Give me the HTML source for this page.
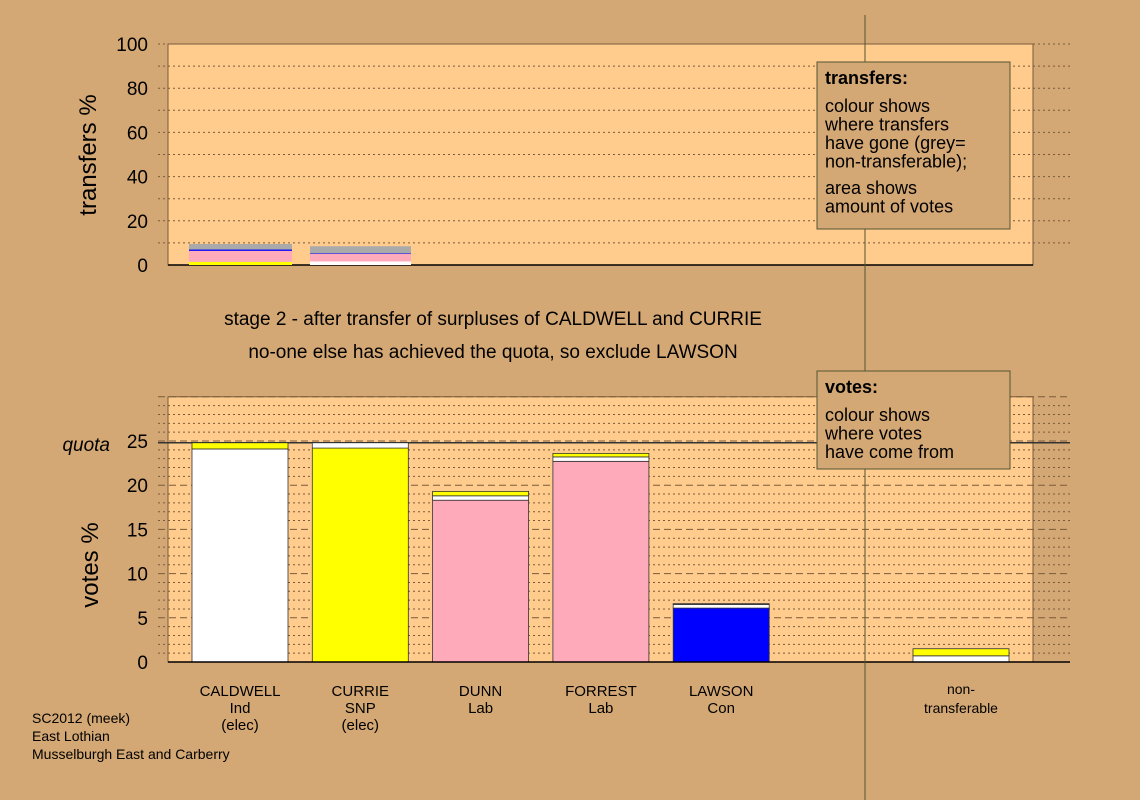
<!DOCTYPE html>
<html><head><meta charset="utf-8"><style>
body{margin:0;background:#d4a874;}
svg{display:block;font-family:"Liberation Sans",sans-serif;}
</style></head><body>
<svg id="c" width="1140" height="800"></svg>
<script>
const candidates=["CALDWELL","CURRIE","DUNN","FORREST","LAWSON"];
const candLines=[["CALDWELL","Ind","(elec)"],["CURRIE","SNP","(elec)"],["DUNN","Lab"],["FORREST","Lab"],["LAWSON","Con"]];
const voteColors=["#ffffff","#ffff00","#ffaabb","#0000ff","#aaaaaa"];
// bottom stacks: [color index, value]
const voteStacks=[[[0,24.1],[1,0.7]],[[1,24.2],[0,0.6]],[[2,18.3],[0,0.5],[1,0.5]],[[2,22.7],[0,0.5],[1,0.4]],[[3,6.1],[0,0.4],[4,0.1]]];
const nonTransStack=[[0,0.7],[1,0.8]];
const transferStacks=[[[1,1.4],[2,4.0],[5,1.0],[3,0.6],[4,2.5]],[[0,1.6],[2,3.4],[3,0.3],[4,3.2]]];
const quota=24.8;
const topTicks=[0,20,40,60,80,100];
const botTicks=[0,5,10,15,20,25];
const NS="http://www.w3.org/2000/svg",svg=document.getElementById('c');
const pal=["#ffffff","#ffff00","#ffaabb","#0000ff","#aaaaaa","#ffaabb"];
function el(t,a,name,p){const e=document.createElementNS(NS,t);for(const k in a)e.setAttribute(k,a[k]);


(p||svg).appendChild(e);return e;}
function txt(x,y,s,size,anchor,name,extra){const e=el('text',Object.assign({x:x,y:y,'font-size':size,'text-anchor':anchor||'middle',fill:'#000'},extra||{}),name);e.textContent=s;return e;}
const X0=168,X1=1033;
const yT=v=>265-v*2.21, yB=v=>662-v*8.84;
const barX=i=>192+i*120.3, BW=96;
// top plot
el('rect',{x:X0,y:44,width:X1-X0,height:221,fill:'#ffcc8e',stroke:'#7a5a3a','stroke-width':1},'transfers-plot-area');
for(let v=10;v<=100;v+=10)el('line',{x1:158,x2:1070,y1:yT(v),y2:yT(v),stroke:'#7a5a3a','stroke-dasharray':'2,3','stroke-width':1},'transfers-gridline');
topTicks.forEach(v=>txt(148,yT(v)+7,String(v),19,'end','transfers-tick-label'));
txt(0,0,'transfers %',24,'middle','transfers-y-axis-title',{transform:'translate(96,155) rotate(-90)'});
el('line',{x1:X0,x2:X1,y1:265,y2:265,stroke:'#000','stroke-width':1.5},'transfers-baseline');
transferStacks.forEach((st,i)=>{let c=0;const bx=i==0?189:310,bw=i==0?103:101;st.forEach(s=>{el('rect',{x:bx,y:yT(c+s[1]),width:bw,height:s[1]*2.21,fill:pal[s[0]]},'transfer-segment-'+candidates[i].toLowerCase());c+=s[1];});});
// middle text
txt(493,325,'stage 2 - after transfer of surpluses of CALDWELL and CURRIE',19,'middle','stage-title');
txt(493,358,'no-one else has achieved the quota, so exclude LAWSON',19,'middle','stage-subtitle');
// bottom plot
el('rect',{x:X0,y:yB(30),width:X1-X0,height:30*8.84,fill:'#ffcc8e',stroke:'#7a5a3a','stroke-width':1},'votes-plot-area');
for(let v=1;v<=30;v++)el('line',{x1:158,x2:1070,y1:yB(v),y2:yB(v),stroke:'#7a5a3a','stroke-dasharray':v%5==0?'7,4':'2,3','stroke-width':1},'votes-gridline');
botTicks.forEach(v=>txt(148,yB(v)+7,String(v),19,'end','votes-tick-label'));
txt(110,yB(quota)+8,'quota',19,'end','quota-label',{'font-style':'italic'});
el('line',{x1:158,x2:1070,y1:yB(quota),y2:yB(quota),stroke:'#333','stroke-width':1.5},'quota-line');
txt(0,0,'votes %',24,'middle','votes-y-axis-title',{transform:'translate(98,565) rotate(-90)'});
function stack(st,x,name){let c=0;st.forEach(s=>{el('rect',{x:x,y:yB(c+s[1]),width:BW,height:s[1]*8.84,fill:voteColors[s[0]],stroke:'#333','stroke-width':0.8},name);c+=s[1];});}
voteStacks.forEach((st,i)=>stack(st,barX(i),'vote-bar-'+candidates[i].toLowerCase()));
stack(nonTransStack,913,'vote-bar-non-transferable');
el('line',{x1:X0,x2:1070,y1:662,y2:662,stroke:'#000','stroke-width':1.5},'votes-baseline');
candLines.forEach((ls,i)=>ls.forEach((s,j)=>txt(barX(i)+48,696+j*17,s,15,'middle','candidate-label')));
txt(961,694,'non-',14,'middle','non-transferable-label');txt(961,713,'transferable',14,'middle','non-transferable-label');
el('line',{x1:865,x2:865,y1:15,y2:800,stroke:'#553',"stroke-width":1},'divider-line');
// legends
function box(y,h,title,lines,name){el('rect',{x:817,y:y,width:193,height:h,fill:'#d4a874',stroke:'#553','stroke-width':1},name);
txt(825,y+22,title,18,'start',name+'-title',{'font-weight':'bold'});
lines.forEach((s,j)=>txt(825,y+50+j*18.5+(s.gap||0),s.t,18,'start',name+'-text'));}
box(62,167,'transfers:',[{t:'colour shows'},{t:'where transfers'},{t:'have gone (grey='},{t:'non-transferable);'},{t:'area shows',gap:8},{t:'amount of votes',gap:8}],'transfers-legend');
box(371,98,'votes:',[{t:'colour shows'},{t:'where votes'},{t:'have come from'}],'votes-legend');
txt(32,723,'SC2012 (meek)',14,'start','source-note');
txt(32,741,'East Lothian',14,'start','council-note');
txt(32,759,'Musselburgh East and Carberry',14,'start','ward-note');
</script>
</body></html>
